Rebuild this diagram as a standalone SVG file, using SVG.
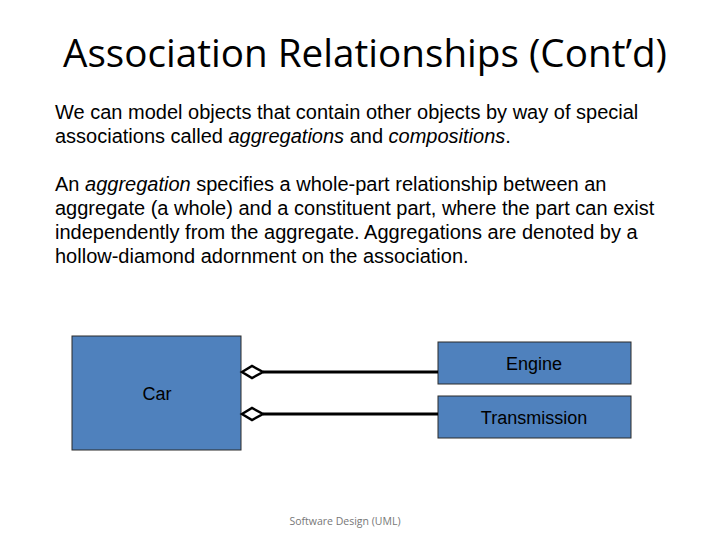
<svg xmlns="http://www.w3.org/2000/svg" width="720" height="540" viewBox="0 0 720 540">
<style>
.body{font-family:"Liberation Sans",Arial,sans-serif;font-size:20px;fill:#000}
.box{fill:#4F81BD;stroke:#2b2b2b;stroke-width:1}
.lbl{font-family:"Liberation Sans",Arial,sans-serif;font-size:18px;fill:#000;text-anchor:middle}
.conn{stroke:#000;stroke-width:3;fill:none}
.dia{fill:#fff;stroke:#000;stroke-width:2.5}
</style>
<rect width="720" height="540" fill="#fff"/>
<text x="63" y="67" font-family="'Open Sans','Liberation Sans',sans-serif" font-size="38" textLength="604" lengthAdjust="spacingAndGlyphs">Association Relationships (Cont’d)</text>
<text class="body" x="55" y="119">We can model objects that contain other objects by way of special</text>
<text class="body" x="55" y="143">associations called <tspan font-style="italic">aggregations</tspan> and <tspan font-style="italic">compositions</tspan>.</text>
<text class="body" x="55" y="191">An <tspan font-style="italic">aggregation</tspan> specifies a whole-part relationship between an</text>
<text class="body" x="55" y="215">aggregate (a whole) and a constituent part, where the part can exist</text>
<text class="body" x="55" y="239">independently from the aggregate. Aggregations are denoted by a</text>
<text class="body" x="55" y="263">hollow-diamond adornment on the association.</text>
<g id="car"><rect class="box" x="72" y="336" width="169" height="114"/><text class="lbl" x="157" y="400">Car</text></g>
<g id="engine"><rect class="box" x="438" y="342" width="193" height="42"/><text class="lbl" x="534" y="370">Engine</text></g>
<g id="transmission"><rect class="box" x="438" y="396" width="193" height="42"/><text class="lbl" x="534" y="424">Transmission</text></g>
<g id="connectors">
<line class="conn" x1="263" y1="372" x2="438" y2="372"/>
<polygon class="dia" points="242,372 252,366 263,372 252,378"/>
<line class="conn" x1="263" y1="414" x2="438" y2="414"/>
<polygon class="dia" points="242,414 252,408 263,414 252,420"/>
</g>
<text x="345" y="525" font-family="'Open Sans','Liberation Sans',sans-serif" font-size="10.5" fill="#777" text-anchor="middle">Software Design (UML)</text>
</svg>
